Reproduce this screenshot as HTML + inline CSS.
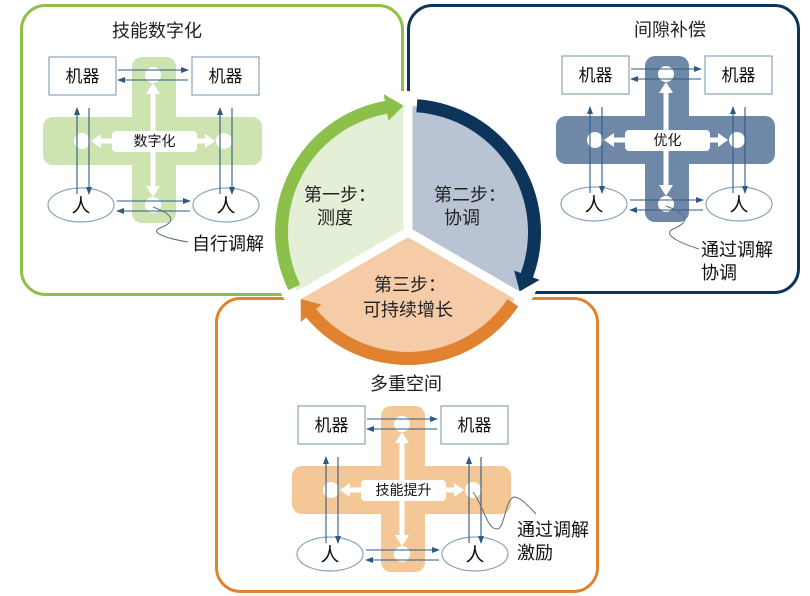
<!DOCTYPE html>
<html><head><meta charset="utf-8"><style>
html,body{margin:0;padding:0;background:#fff;}
svg{display:block;font-family:"Liberation Sans","Noto Sans CJK SC",sans-serif;}
</style></head><body>
<svg width="810" height="596" viewBox="0 0 810 596" xmlns="http://www.w3.org/2000/svg">
<defs>
<marker id="ah" markerWidth="8" markerHeight="6" refX="7" refY="3" orient="auto" markerUnits="userSpaceOnUse"><path d="M0,0 L8,3 L0,6 Z" fill="#2c5a85"/></marker>
<g id="cross">
 <rect x="132" y="57" width="44" height="166" rx="10"/>
 <rect x="43" y="117" width="219" height="48" rx="10"/>
 <g fill="#fff">
  <circle cx="153" cy="75" r="8"/><circle cx="82" cy="141" r="8"/><circle cx="224" cy="141" r="8"/><circle cx="153" cy="205" r="8"/>
  <rect x="112" y="131" width="85" height="21" rx="4"/>
  <rect x="150.5" y="92" width="5" height="96"/>
  <path d="M153,83 L160,94 L146,94 Z M153,197 L160,186 L146,186 Z"/>
  <rect x="98" y="138.5" width="110" height="5"/>
  <path d="M91,141 L101,134 L101,148 Z M215,141 L205,134 L205,148 Z"/>
 </g>
 <g fill="#fff" stroke="#8aa3bb" stroke-width="1.2">
  <rect x="49" y="57" width="67" height="38"/><rect x="192" y="57" width="67" height="38"/>
  <ellipse cx="81" cy="205" rx="33" ry="17"/><ellipse cx="226" cy="205" rx="33" ry="17"/>
 </g>
 <g stroke="#2c5a85" stroke-width="1.1" marker-end="url(#ah)">
  <line x1="118" y1="70" x2="188" y2="70"/><line x1="188" y1="80" x2="118" y2="80"/>
  <line x1="117" y1="201" x2="190" y2="201"/><line x1="190" y1="211" x2="117" y2="211"/>
  <line x1="77" y1="194" x2="77" y2="108"/><line x1="89" y1="108" x2="89" y2="194"/>
  <line x1="220" y1="194" x2="220" y2="108"/><line x1="232" y1="108" x2="232" y2="194"/>
 </g>
 <g font-size="17" fill="#111" text-anchor="middle">
  <text x="82.5" y="82">机器</text><text x="225.5" y="82">机器</text>
  <text x="81" y="212" font-size="19">人</text><text x="226" y="212" font-size="19">人</text>
 </g>
</g>
</defs>

<rect x="21.5" y="5.5" width="381" height="289" rx="24" fill="#fff" stroke="#8dc044" stroke-width="3"/>
<rect x="408.5" y="5.5" width="390" height="287" rx="24" fill="#fff" stroke="#0d3559" stroke-width="3"/>
<rect x="216.5" y="298.5" width="381" height="293" rx="24" fill="#fff" stroke="#e0822f" stroke-width="3"/>

<text x="157" y="37" font-size="18" text-anchor="middle" fill="#222">技能数字化</text>
<use href="#cross" fill="#cde3b0"/>
<text x="154.5" y="146" font-size="14" text-anchor="middle" fill="#111">数字化</text>
<path d="M153,207 C172,214 178,221 160,228 C148,233 170,239 188,242" fill="none" stroke="#5a6e80" stroke-width="1"/>
<text x="192" y="250" font-size="18" fill="#111">自行调解</text>

<g transform="translate(513,-1)">
<text x="157" y="37" font-size="18" text-anchor="middle" fill="#222">间隙补偿</text>
<use href="#cross" fill="#6f88a8"/>
<text x="154.5" y="146" font-size="14" text-anchor="middle" fill="#111">优化</text>
<path d="M153,207 C172,214 180,222 160,230 C148,236 170,245 186,250" fill="none" stroke="#5a6e80" stroke-width="1"/>
<text x="188" y="257" font-size="18" fill="#111">通过调解</text>
<text x="188" y="280" font-size="18" fill="#111">协调</text>
</g>

<g transform="translate(249,349)">
<text x="157" y="41" font-size="18" text-anchor="middle" fill="#222">多重空间</text>
<use href="#cross" fill="#f4c896"/>
<text x="154.5" y="146" font-size="14" text-anchor="middle" fill="#111">技能提升</text>
<path d="M224,143 C236,160 238,180 248,180 C256,180 256,150 265,148 C272,148 280,158 287,165" fill="none" stroke="#5a6e80" stroke-width="1"/>
<text x="268" y="187" font-size="18" fill="#111">通过调解</text>
<text x="268" y="210" font-size="18" fill="#111">激励</text>
</g>

<circle cx="408" cy="232" r="141" fill="#fff"/>
<path d="M408,232 L298.9,295 A126,126 0 0 1 408,106 Z" fill="#e3efd6"/>
<path d="M408,232 L408,106 A126,126 0 0 1 517.1,295 Z" fill="#b8c4d4"/>
<path d="M408,232 L517.1,295 A126,126 0 0 1 298.9,295 Z" fill="#f6cba8"/>
<path d="M288.5,290.3 A133,133 0 0 1 384.9,101 L383.7,94.1 L403.6,105.6 L388.4,120.7 L387.2,113.8 A120,120 0 0 0 300.1,284.6 Z" fill="#8cc04b"/>
<path d="M417.3,99.3 A133,133 0 0 1 533,277.5 L539.6,279.9 L519.7,291.4 L514.2,270.6 L520.8,273 A120,120 0 0 0 416.4,112.3 Z" fill="#0d3559"/>
<path d="M518.3,306.4 A133,133 0 0 1 306.1,317.5 L300.8,322 L300.7,299 L321.4,304.6 L316.1,309.1 A120,120 0 0 0 507.5,299.1 Z" fill="#e0822f"/>
<g stroke="#fff" stroke-width="9">
<line x1="408" y1="232" x2="408" y2="92"/>
<line x1="408" y1="232" x2="529" y2="302"/>
<line x1="408" y1="232" x2="287" y2="302"/>
</g>
<g font-size="18" fill="#222" text-anchor="middle">
<text x="340" y="201">第一步：</text><text x="335" y="224">测度</text>
<text x="470" y="201">第二步：</text><text x="462" y="224">协调</text>
<text x="410" y="291">第三步：</text><text x="408" y="316">可持续增长</text>
</g>
</svg>
</body></html>
